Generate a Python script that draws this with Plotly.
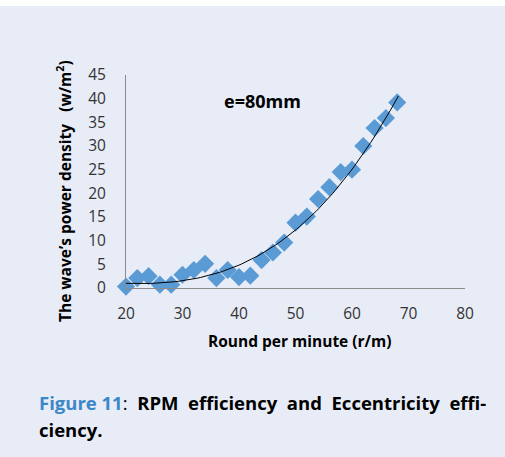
import numpy as np
import plotly.graph_objects as go

rpm = [20, 22, 24, 26, 28, 30, 32, 34, 36, 38, 40, 42, 44, 46, 48, 50, 52, 54, 56, 58, 60, 62, 64, 66, 68]
power = [0.3, 2.1, 2.5, 0.7, 0.7, 2.8, 3.8, 5.1, 2.1, 3.8, 2.3, 2.6, 5.9, 7.5, 9.6, 13.8, 15.1, 18.8, 21.3, 24.5, 25.0, 30.0, 33.8, 35.9, 39.2]
# trendline values
trend_rpm = [20, 28.8, 34.9, 40.2, 45.5, 47.8, 50.2, 54.3, 59.6, 64.4, 68.2]
trend_power = [1.0, 1.2, 3.1, 4.9, 7.5, 10.5, 12.1, 18.2, 24.2, 32.0, 41.0]
x_ticks = [20, 30, 40, 50, 60, 70, 80]
y_ticks = [0, 5, 10, 15, 20, 25, 30, 35, 40, 45]

coef = np.polyfit(trend_rpm, trend_power, 3)
fit_x = np.linspace(min(trend_rpm), max(trend_rpm), 100)
fit_y = np.polyval(coef, fit_x)

BG = "#E8ECF7"
FONT = "Open Sans"

fig = go.Figure()
fig.add_trace(go.Scatter(x=rpm, y=power, mode="markers", cliponaxis=False,
                         marker=dict(symbol="diamond", size=14, color="#5B9BD5"),
                         showlegend=False))
fig.add_trace(go.Scatter(x=fit_x, y=fit_y, mode="lines", cliponaxis=False,
                         line=dict(color="black", width=1), showlegend=False))

W, H = 505, 457
L, R, T, B = 126, 40, 75, 169
pw, ph = W - L - R, H - T - B

def px(xp):
    return (xp - L) / pw

def py(yp):
    return (H - B - yp) / ph

fig.update_layout(
    width=W, height=H,
    margin=dict(l=L, r=R, t=T, b=B),
    paper_bgcolor=BG, plot_bgcolor=BG,
    font=dict(family=FONT, size=15, color="#333333"),
    xaxis=dict(range=[20, 80], tickvals=x_ticks, showgrid=False, zeroline=False,
               showline=True, linecolor="#8C8C8C", linewidth=1, ticks="",
               ticklabelstandoff=11, tickfont=dict(size=15.5, color="#333333")),
    yaxis=dict(range=[0, 45], tickvals=y_ticks, showgrid=False, zeroline=False,
               showline=True, linecolor="#8C8C8C", linewidth=1, ticks="",
               ticklabelstandoff=16, tickfont=dict(size=15.5, color="#333333")),
    shapes=[dict(type="rect", xref="paper", yref="paper",
                 x0=px(-5), x1=px(W + 5), y0=py(6), y1=py(-5),
                 fillcolor="white", line=dict(width=0), layer="below")],
)

fig.add_annotation(x=44.1, y=39.5, xref="x", yref="y", text="<b>e=80mm</b>",
                   xanchor="center", yanchor="middle",
                   showarrow=False, font=dict(size=18, color="black", family=FONT))
fig.add_annotation(x=px(64), y=py(191), xref="paper", yref="paper",
                   xanchor="center", yanchor="middle",
                   text="<b>The wave\u2019s power density\u00a0\u00a0\u00a0(w/m<sup>2</sup>)</b>",
                   textangle=-90, showarrow=False,
                   font=dict(size=15.5, color="black", family=FONT))
fig.add_annotation(x=px(299), y=py(341), xref="paper", yref="paper",
                   xanchor="center", yanchor="middle",
                   text="<b>Round per minute (r/m)</b>", showarrow=False,
                   font=dict(size=15.5, color="black", family=FONT))
fig.add_annotation(x=px(37), y=py(402), xref="paper", yref="paper",
                   xanchor="left", yanchor="middle",
                   text="<b><span style='color:#3C87C7'>Figure\u00a011</span></b>:\u00a0\u00a0<b>RPM\u00a0\u00a0efficiency\u00a0\u00a0and\u00a0\u00a0Eccentricity\u00a0\u00a0effi-</b>",
                   showarrow=False, font=dict(size=18.5, color="black", family=FONT))
fig.add_annotation(x=px(37), y=py(430), xref="paper", yref="paper",
                   xanchor="left", yanchor="middle",
                   text="<b>ciency.</b>", showarrow=False,
                   font=dict(size=18.5, color="black", family=FONT))

fig.write_html("out.html")
